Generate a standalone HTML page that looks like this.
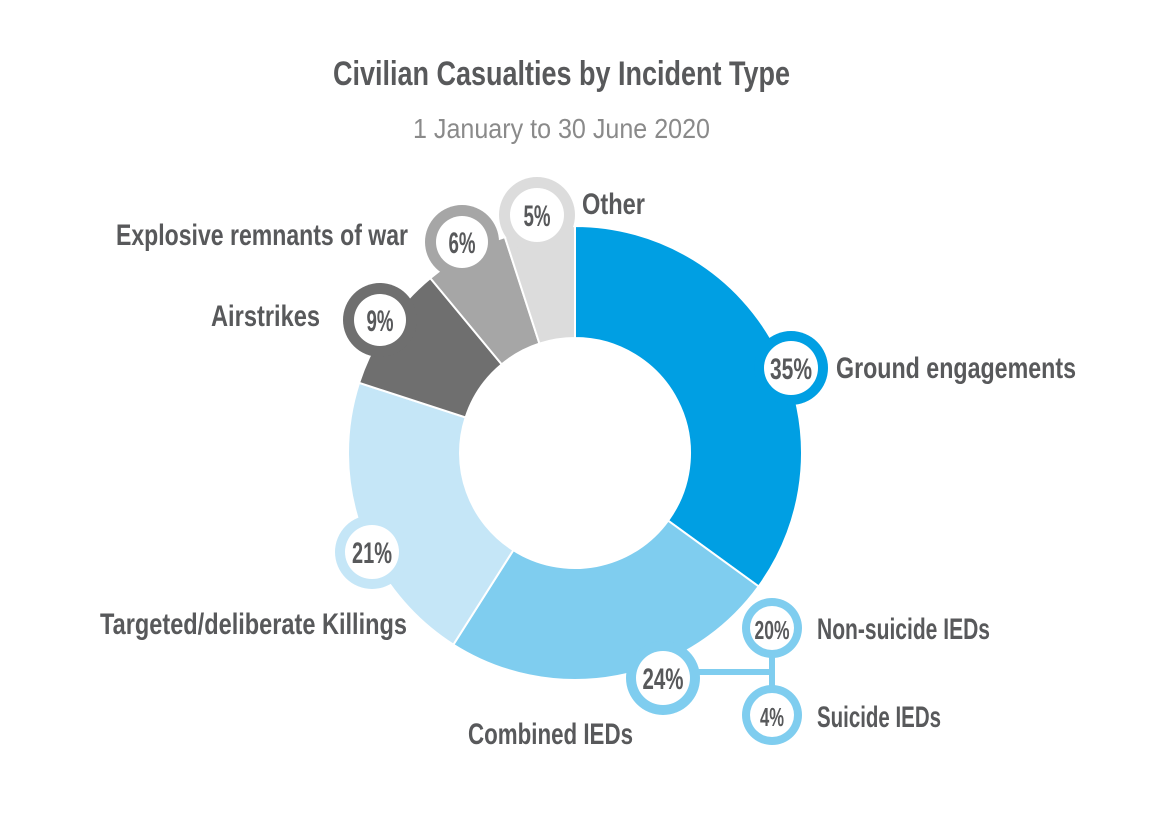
<!DOCTYPE html>
<html><head><meta charset="utf-8"><style>
body{margin:0;background:#fff}
svg text{font-family:"Liberation Sans",sans-serif;font-weight:bold;fill:#58595b}
</style></head><body>
<svg id="s" width="1160" height="829" viewBox="0 0 1160 829" xmlns="http://www.w3.org/2000/svg">
<text x="333" y="85" font-size="34" textLength="457" lengthAdjust="spacingAndGlyphs">Civilian Casualties by Incident Type</text>
<text x="413" y="138" font-size="28" textLength="297" lengthAdjust="spacingAndGlyphs" style="fill:#8a8a8a;font-weight:normal">1 January to 30 June 2020</text>
<g id="slices"></g>
<line x1="690" y1="672" x2="772" y2="672" stroke="#7fcdef" stroke-width="6"/>
<line x1="772" y1="628" x2="772" y2="715" stroke="#7fcdef" stroke-width="6"/>
<g id="badges"></g>
<g font-size="30">
<text x="582" y="214" textLength="63" lengthAdjust="spacingAndGlyphs">Other</text>
<text x="116" y="245" textLength="292" lengthAdjust="spacingAndGlyphs">Explosive remnants of war</text>
<text x="211" y="326" textLength="109" lengthAdjust="spacingAndGlyphs">Airstrikes</text>
<text x="836" y="378" textLength="240" lengthAdjust="spacingAndGlyphs">Ground engagements</text>
<text x="100" y="634" textLength="307" lengthAdjust="spacingAndGlyphs">Targeted/deliberate Killings</text>
<text x="468" y="744" textLength="165" lengthAdjust="spacingAndGlyphs">Combined IEDs</text>
<text x="817" y="639" textLength="173" lengthAdjust="spacingAndGlyphs">Non-suicide IEDs</text>
<text x="817" y="727" textLength="124" lengthAdjust="spacingAndGlyphs">Suicide IEDs</text>
</g>
</svg>
<script>
var cx=575,cy=453,R=227,r=115,NS="http://www.w3.org/2000/svg";
var d=[[35,"#009fe3"],[24,"#7fcdef"],[21,"#c5e6f7"],[9,"#6f6f6f"],[6,"#a6a6a6"],[5,"#dcdcdc"]];
var g=document.getElementById("slices"),a=0;
function p(rad,ang){var t=ang*Math.PI/180;return (cx+rad*Math.sin(t)).toFixed(2)+","+(cy-rad*Math.cos(t)).toFixed(2);}
d.forEach(function(s){var b=a+s[0]*3.6;var l=(b-a)>180?1:0;
var e=document.createElementNS(NS,"path");
e.setAttribute("d","M"+p(R,a)+"A"+R+","+R+" 0 "+l+" 1 "+p(R,b)+"L"+p(r,b)+"A"+r+","+r+" 0 "+l+" 0 "+p(r,a)+"Z");
e.setAttribute("fill",s[1]);e.setAttribute("stroke","#fff");e.setAttribute("stroke-width","2");g.appendChild(e);a=b;});
var bd=[[537,215,38,27,"5%","#dcdcdc",27],[462,242,37,26,"6%","#a6a6a6",27],[380,320,37,26,"9%","#6f6f6f",27],[791,368,37,27,"35%","#009fe3",42],[372,552,37,27,"21%","#c5e6f7",40],[663,678,37,27,"24%","#7fcdef",41],[772,628,30,22,"20%","#7fcdef",35],[772,715,30,22,"4%","#7fcdef",24]];
var gb=document.getElementById("badges");
bd.forEach(function(b){var c1=document.createElementNS(NS,"circle");c1.setAttribute("cx",b[0]);c1.setAttribute("cy",b[1]);c1.setAttribute("r",b[2]);c1.setAttribute("fill",b[5]);gb.appendChild(c1);
var c2=document.createElementNS(NS,"circle");c2.setAttribute("cx",b[0]);c2.setAttribute("cy",b[1]);c2.setAttribute("r",b[3]);c2.setAttribute("fill","#fff");gb.appendChild(c2);
var t=document.createElementNS(NS,"text");t.setAttribute("x",b[0]-b[6]/2);t.setAttribute("y",b[1]+11);t.setAttribute("font-size",b[2]>32?"30":"26");t.setAttribute("textLength",b[6]);t.setAttribute("lengthAdjust","spacingAndGlyphs");t.textContent=b[4];gb.appendChild(t);});
</script>
</body></html>
